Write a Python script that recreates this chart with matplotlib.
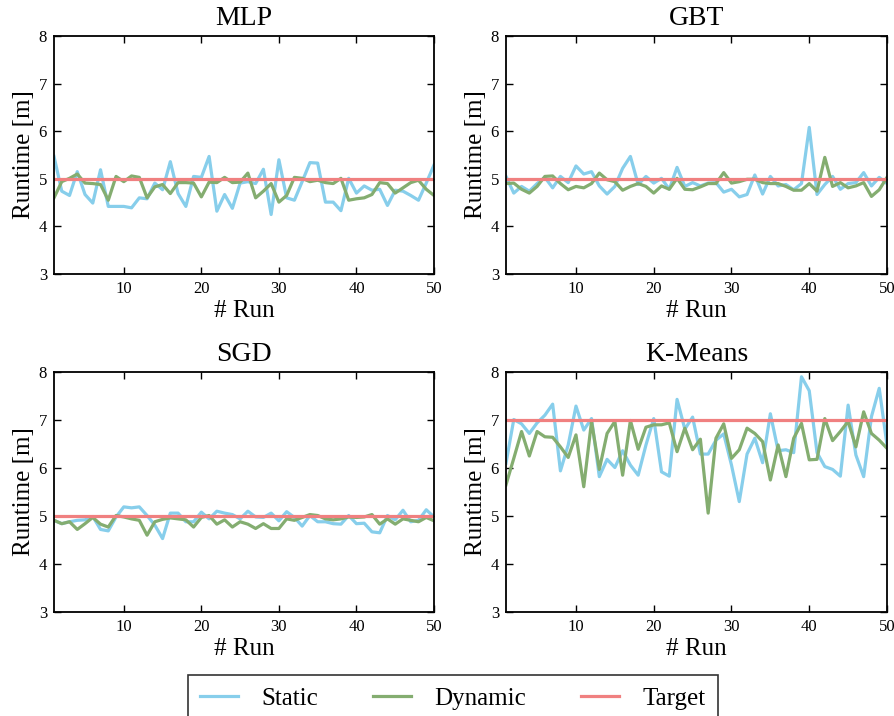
import numpy as np
import matplotlib
matplotlib.use("Agg")
import matplotlib.pyplot as plt

plt.rcParams['font.family'] = ['Liberation Serif', 'DejaVu Serif']
plt.rcParams['mathtext.fontset'] = 'stix'

runs = np.arange(1, 51)

# MLP
mlp_static = [5.47, 4.74, 4.65, 5.15, 4.67, 4.49, 5.19, 4.42, 4.42, 4.42,
              4.39, 4.60, 4.58, 4.91, 4.77, 5.36, 4.69, 4.42, 5.05, 5.03,
              5.47, 4.32, 4.67, 4.38, 4.91, 4.94, 4.90, 5.20, 4.25, 5.40,
              4.60, 4.55, 4.94, 5.34, 5.33, 4.51, 4.51, 4.33, 5.01, 4.70,
              4.85, 4.76, 4.78, 4.44, 4.76, 4.74, 4.65, 4.55, 4.91, 5.29]
mlp_dynamic = [4.60, 4.94, 5.01, 5.10, 4.91, 4.90, 4.88, 4.55, 5.05, 4.94,
               5.06, 5.03, 4.60, 4.83, 4.88, 4.69, 4.92, 4.92, 4.91, 4.62,
               4.93, 4.92, 5.03, 4.92, 4.93, 5.12, 4.60, 4.74, 4.90, 4.51,
               4.65, 5.03, 5.01, 4.94, 4.97, 4.92, 4.90, 5.01, 4.55, 4.58,
               4.60, 4.67, 4.92, 4.90, 4.70, 4.81, 4.92, 4.97, 4.78, 4.65]

# GBT
gbt_static = [5.05, 4.70, 4.84, 4.74, 4.90, 5.03, 4.81, 5.05, 4.92, 5.27,
              5.10, 5.15, 4.85, 4.68, 4.84, 5.22, 5.47, 4.88, 5.05, 4.91,
              5.01, 4.78, 5.24, 4.84, 4.92, 4.85, 4.91, 4.92, 4.72, 4.78,
              4.62, 4.67, 5.08, 4.68, 5.05, 4.85, 4.88, 4.77, 4.90, 6.08,
              4.67, 4.88, 5.05, 4.78, 4.90, 4.92, 5.13, 4.85, 5.03, 4.90]
gbt_dynamic = [4.90, 4.91, 4.78, 4.70, 4.84, 5.05, 5.06, 4.90, 4.77, 4.84,
               4.81, 4.90, 5.12, 4.98, 4.94, 4.76, 4.84, 4.90, 4.84, 4.70,
               4.85, 4.78, 5.01, 4.78, 4.77, 4.83, 4.90, 4.90, 5.13, 4.91,
               4.94, 4.99, 4.99, 4.92, 4.90, 4.90, 4.84, 4.76, 4.76, 4.90,
               4.74, 5.45, 4.84, 4.92, 4.81, 4.85, 4.92, 4.63, 4.77, 5.03]

# SGD
sgd_static = [4.91, 4.84, 4.88, 4.91, 4.92, 4.99, 4.72, 4.69, 4.98, 5.19,
              5.17, 5.19, 5.01, 4.81, 4.53, 5.06, 5.06, 4.88, 4.88, 5.08,
              4.94, 5.10, 5.06, 5.03, 4.94, 5.10, 4.98, 4.97, 5.06, 4.90,
              5.09, 4.97, 4.79, 5.01, 4.88, 4.88, 4.84, 4.83, 5.01, 4.84,
              4.85, 4.67, 4.65, 5.01, 4.92, 5.12, 4.88, 4.91, 5.13, 4.98]
sgd_dynamic = [4.91, 4.84, 4.88, 4.72, 4.84, 4.97, 4.83, 4.77, 5.01, 4.98,
               4.94, 4.91, 4.60, 4.88, 4.93, 4.96, 4.94, 4.92, 4.77, 4.97,
               5.01, 4.83, 4.92, 4.77, 4.88, 4.83, 4.74, 4.84, 4.74, 4.74,
               4.94, 4.91, 4.97, 5.03, 5.01, 4.94, 4.92, 4.94, 4.98, 4.97,
               4.98, 5.03, 4.83, 4.94, 4.83, 4.94, 4.91, 4.88, 4.97, 4.90]

# K-Means
km_static = [6.10, 7.01, 6.92, 6.72, 6.94, 7.10, 7.33, 5.94, 6.48, 7.29,
             6.79, 7.03, 5.82, 6.18, 6.01, 6.36, 6.06, 5.85, 6.48, 7.03,
             5.92, 5.83, 7.43, 6.81, 7.06, 6.29, 6.29, 6.58, 6.71, 6.06,
             5.30, 6.29, 6.62, 6.11, 7.13, 6.36, 6.38, 6.32, 7.90, 7.61,
             6.32, 6.03, 5.97, 5.83, 7.31, 6.27, 5.82, 7.07, 7.66, 6.48]
km_dynamic = [5.65, 6.20, 6.76, 6.25, 6.76, 6.65, 6.64, 6.44, 6.22, 6.69,
              5.61, 6.97, 5.97, 6.72, 6.97, 5.85, 6.99, 6.39, 6.85, 6.90,
              6.90, 6.94, 6.34, 6.83, 6.38, 6.60, 5.06, 6.62, 6.92, 6.20,
              6.38, 6.83, 6.72, 6.55, 5.75, 6.48, 5.82, 6.62, 6.93, 6.17,
              6.18, 7.03, 6.57, 6.76, 6.97, 6.44, 7.17, 6.72, 6.58, 6.41]

titles = ['MLP', 'GBT', 'SGD', 'K-Means']
statics = [mlp_static, gbt_static, sgd_static, km_static]
dynamics = [mlp_dynamic, gbt_dynamic, sgd_dynamic, km_dynamic]
targets = [5, 5, 5, 7]

c_static = '#87ceeb'
c_dynamic = '#84ad70'
c_target = '#f08080'

W, H = 894, 716
fig = plt.figure(figsize=(W / 100, H / 100), dpi=100)

# axes boxes in pixels: left, right, top, bottom
boxes = [(54, 434, 36, 274), (506, 887, 36, 274),
         (54, 434, 372, 612), (506, 887, 372, 612)]

for k in range(4):
    l, r, t, b = boxes[k]
    ax = fig.add_axes([l / W, 1 - b / H, (r - l) / W, (b - t) / H])
    ax.plot(runs, statics[k], color=c_static, lw=2.3, label='Static')
    ax.plot(runs, dynamics[k], color=c_dynamic, lw=2.3, label='Dynamic')
    ax.plot(runs, [targets[k]] * len(runs), color=c_target, lw=2.3, label='Target')
    ax.set_xlim(1, 50)
    ax.set_ylim(3, 8)
    ax.set_xticks([10, 20, 30, 40, 50])
    ax.set_yticks([3, 4, 5, 6, 7, 8])
    ax.tick_params(direction='in', top=True, right=True, length=5, width=1,
                   labelsize=12, pad=5)
    for s in ax.spines.values():
        s.set_linewidth(1.3)
    ax.set_title(titles[k], fontsize=20, pad=8)
    ax.set_xlabel('# Run', fontsize=18, labelpad=2)
    ax.set_ylabel('Runtime [m]', fontsize=18, labelpad=3)

# legend box runs past the bottom edge, as in the original
handles, labels = ax.get_legend_handles_labels()
leg = fig.legend(handles, labels, loc='upper center', ncol=3,
                 bbox_to_anchor=(453 / W, 1 - 675 / H), borderaxespad=0,
                 fontsize=18, frameon=True, fancybox=False, edgecolor='black',
                 handlelength=1.5, handletextpad=0.95, columnspacing=2.2,
                 borderpad=0.5)
leg.get_frame().set_linewidth(1.2)

fig.savefig('out.png', dpi=100)
